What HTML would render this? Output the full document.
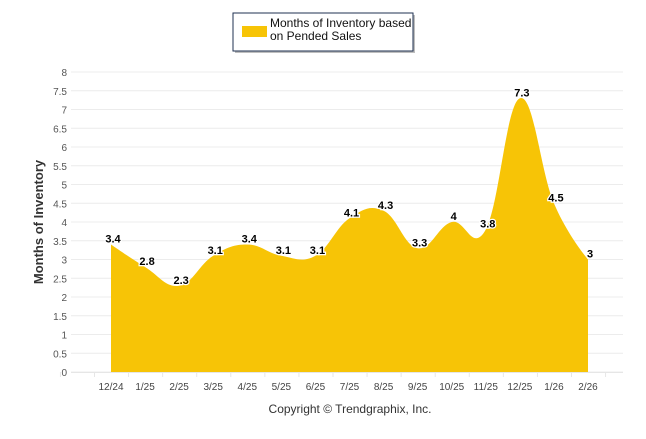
<!DOCTYPE html>
<html><head><meta charset="utf-8"><style>
body{margin:0;background:#fff;}
svg text{font-family:"Liberation Sans",sans-serif;}
</style></head><body>
<svg id="chart" width="646" height="434">
<g id="grid"></g>
<path id="area" fill="#f7c406"/>
<g id="ylabels"></g>
<g id="xlabels"></g>
<g id="vlabels"></g>
<text transform="translate(43,222) rotate(-90)" text-anchor="middle" font-size="13" font-weight="bold" fill="#333">Months of Inventory</text>
<text x="350" y="413" text-anchor="middle" font-size="12" fill="#333">Copyright © Trendgraphix, Inc.</text>
<g>
<rect x="235" y="15" width="180" height="38" fill="#444" opacity="0.35"/>
<rect x="233" y="13" width="180" height="38" fill="#fff" stroke="#1f3050" stroke-width="1"/>
<rect x="242" y="26" width="25" height="11" fill="#f7c406"/>
<text x="270" y="27" font-size="12" fill="#111">Months of Inventory based</text>
<text x="270" y="40" font-size="12" fill="#111">on Pended Sales</text>
</g>
</svg>
<script>
const categories=["12/24","1/25","2/25","3/25","4/25","5/25","6/25","7/25","8/25","9/25","10/25","11/25","12/25","1/26","2/26"];
const values=[3.4,2.8,2.3,3.1,3.4,3.1,3.1,4.1,4.3,3.3,4,3.8,7.3,4.5,3];
const yTicks=[0,0.5,1,1.5,2,2.5,3,3.5,4,4.5,5,5.5,6,6.5,7,7.5,8];
const NS="http://www.w3.org/2000/svg";
const y=v=>372-v*37.5;
const x=i=>111+i*(588-111)/(categories.length-1);
function mk(tag,attrs,parent,txt){const e=document.createElementNS(NS,tag);for(const k in attrs)e.setAttribute(k,attrs[k]);if(txt!=null)e.textContent=txt;document.getElementById(parent).appendChild(e);return e;}
yTicks.forEach(t=>{
 const l=mk('line',{x1:71,x2:623,y1:y(t),y2:y(t),stroke:'#ececec','stroke-width':1},'grid');
 
 
 const tx=mk('text',{x:67,y:y(t)+4,'text-anchor':'end','font-size':10,fill:'#555'},'ylabels',String(t));
 
 
});
mk('line',{x1:71,x2:623,y1:372.5,y2:372.5,stroke:'#e6e6e6'},'grid');
for(let i=-1;i<=categories.length;i++){mk('line',{x1:x(i)-17+0.5,x2:x(i)-17+0.5,y1:372,y2:377,stroke:'#e6e6e6'},'grid');}
categories.forEach((c,i)=>{
 const t=mk('text',{x:x(i),y:390,'text-anchor':'middle','font-size':10,fill:'#444'},'xlabels',c);
 
 
});
const P=values.map((v,i)=>[x(i),y(v)]);
function conts(i){
 const [px,py]=P[i],[ax,ay]=P[i-1],[bx,by]=P[i+1];
 let lx=(1.5*px+ax)/2.5,ly=(1.5*py+ay)/2.5,rx=(1.5*px+bx)/2.5,ry=(1.5*py+by)/2.5;
 const c=((ry-ly)*(rx-px))/(rx-lx)+py-ry;ly+=c;ry+=c;
 return [lx,ly,rx,ry];
}
let d=`M${P[0][0]},372 L${P[0][0]},${P[0][1]}`;
for(let i=1;i<P.length;i++){
 const a=i-1>0?conts(i-1):[0,0,P[0][0],P[0][1]];
 const b=i<P.length-1?conts(i):[P[i][0],P[i][1]];
 d+=` C${a[2]},${a[3]} ${b[0]},${b[1]} ${P[i][0]},${P[i][1]}`;
}
d+=` L${P[P.length-1][0]},372 Z`;
document.getElementById('area').setAttribute('d',d);
values.forEach((v,i)=>{
 const t=mk('text',{x:x(i)+2,y:y(v)-2,'text-anchor':'middle','font-size':11,'font-weight':'bold',fill:'#000',stroke:'#fff','stroke-width':2.5,'paint-order':'stroke'},'vlabels',String(v));
 
 
});
</script>
</body></html>
